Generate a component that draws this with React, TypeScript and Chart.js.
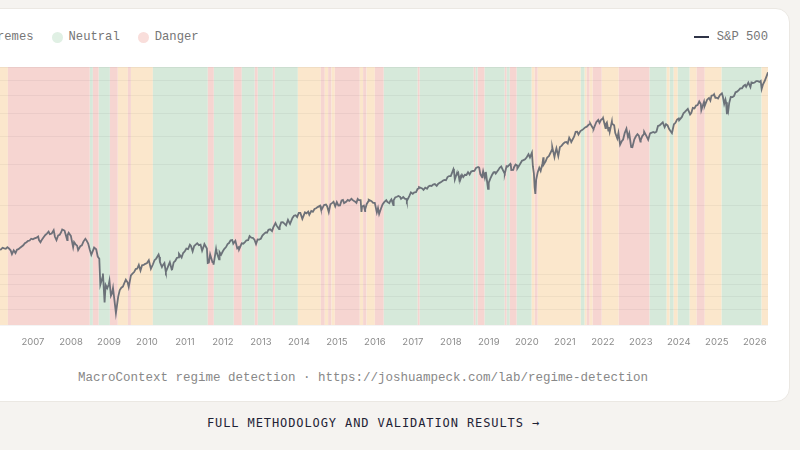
import React, { useEffect, useRef } from "react";
import { Chart, registerables } from "chart.js";

Chart.register(...registerables);

// S&P 500 closes, roughly twice a month
const SPX_SERIES: [string, number][] = [
  ["2006-01-03", 1269], ["2006-01-15", 1287], ["2006-01-31", 1280], ["2006-02-15", 1280], ["2006-02-28", 1281],
  ["2006-03-15", 1303], ["2006-03-31", 1295], ["2006-04-15", 1290], ["2006-04-30", 1311], ["2006-05-15", 1294],
  ["2006-05-31", 1270], ["2006-06-13", 1223], ["2006-06-30", 1270], ["2006-07-17", 1236], ["2006-07-31", 1277],
  ["2006-08-15", 1285], ["2006-08-31", 1304], ["2006-09-15", 1320], ["2006-09-30", 1336], ["2006-10-15", 1363],
  ["2006-10-31", 1378], ["2006-11-15", 1396], ["2006-11-30", 1401], ["2006-12-15", 1427], ["2006-12-31", 1418],
  ["2007-01-15", 1431], ["2007-01-31", 1438], ["2007-02-20", 1459], ["2007-02-28", 1407], ["2007-03-14", 1377],
  ["2007-03-31", 1421], ["2007-04-15", 1452], ["2007-04-30", 1482], ["2007-05-15", 1501], ["2007-05-31", 1531],
  ["2007-06-12", 1493], ["2007-06-30", 1503], ["2007-07-19", 1553], ["2007-07-31", 1455], ["2007-08-15", 1406],
  ["2007-08-31", 1474], ["2007-09-15", 1484], ["2007-09-30", 1527], ["2007-10-09", 1565], ["2007-10-31", 1549],
  ["2007-11-26", 1407], ["2007-11-30", 1481], ["2007-12-10", 1515], ["2007-12-31", 1468],
  ["2008-01-22", 1310], ["2008-01-31", 1379], ["2008-02-15", 1349], ["2008-02-29", 1331], ["2008-03-10", 1273],
  ["2008-03-31", 1323], ["2008-04-15", 1334], ["2008-04-30", 1386], ["2008-05-19", 1426], ["2008-05-31", 1400],
  ["2008-06-15", 1360], ["2008-06-30", 1280], ["2008-07-15", 1214], ["2008-07-31", 1267], ["2008-08-11", 1305],
  ["2008-08-31", 1283], ["2008-09-15", 1193], ["2008-09-30", 1166], ["2008-10-10", 899], ["2008-10-31", 969],
  ["2008-11-04", 1005], ["2008-11-20", 752], ["2008-11-30", 896], ["2008-12-15", 868], ["2008-12-31", 903],
  ["2009-01-06", 935], ["2009-01-20", 805], ["2009-01-31", 826], ["2009-02-09", 870], ["2009-02-28", 735],
  ["2009-03-09", 676], ["2009-03-31", 798], ["2009-04-15", 852], ["2009-04-30", 873], ["2009-05-15", 882],
  ["2009-05-31", 919], ["2009-06-12", 946], ["2009-06-30", 919], ["2009-07-10", 879], ["2009-07-31", 987],
  ["2009-08-15", 1005], ["2009-08-31", 1021], ["2009-09-15", 1052], ["2009-09-30", 1057], ["2009-10-15", 1096],
  ["2009-10-31", 1036], ["2009-11-15", 1093], ["2009-11-30", 1096], ["2009-12-15", 1108], ["2009-12-31", 1115],
  ["2010-01-19", 1150], ["2010-02-08", 1056], ["2010-02-28", 1104], ["2010-03-15", 1150], ["2010-03-31", 1169],
  ["2010-04-23", 1217], ["2010-04-30", 1187], ["2010-05-06", 1128], ["2010-05-25", 1074], ["2010-05-31", 1089],
  ["2010-06-18", 1117], ["2010-06-30", 1031], ["2010-07-02", 1022], ["2010-07-31", 1102], ["2010-08-09", 1127],
  ["2010-08-27", 1047], ["2010-08-31", 1049], ["2010-09-15", 1125], ["2010-09-30", 1141], ["2010-10-15", 1176],
  ["2010-10-31", 1183], ["2010-11-05", 1225], ["2010-11-30", 1181], ["2010-12-15", 1236], ["2010-12-31", 1258],
  ["2011-01-15", 1293], ["2011-01-31", 1286], ["2011-02-18", 1343], ["2011-02-28", 1327], ["2011-03-16", 1256],
  ["2011-03-31", 1326], ["2011-04-29", 1364], ["2011-05-15", 1338], ["2011-05-31", 1345], ["2011-06-15", 1265],
  ["2011-06-30", 1321], ["2011-07-07", 1353], ["2011-07-31", 1292], ["2011-08-08", 1119], ["2011-08-19", 1124],
  ["2011-08-31", 1219], ["2011-09-22", 1129], ["2011-09-30", 1131], ["2011-10-03", 1099], ["2011-10-27", 1285],
  ["2011-10-31", 1253], ["2011-11-25", 1159], ["2011-11-30", 1247], ["2011-12-15", 1216], ["2011-12-31", 1258],
  ["2012-01-15", 1290], ["2012-01-31", 1312], ["2012-02-15", 1351], ["2012-02-29", 1366], ["2012-03-15", 1403],
  ["2012-03-31", 1408], ["2012-04-10", 1358], ["2012-04-30", 1398], ["2012-05-18", 1295], ["2012-05-31", 1310],
  ["2012-06-04", 1278], ["2012-06-30", 1362], ["2012-07-15", 1357], ["2012-07-31", 1379], ["2012-08-15", 1405],
  ["2012-08-31", 1407], ["2012-09-14", 1465], ["2012-09-30", 1441], ["2012-10-15", 1440], ["2012-10-31", 1412],
  ["2012-11-15", 1353], ["2012-11-30", 1416], ["2012-12-15", 1414], ["2012-12-31", 1426],
  ["2013-01-15", 1472], ["2013-01-31", 1498], ["2013-02-15", 1519], ["2013-02-28", 1515], ["2013-03-15", 1560],
  ["2013-03-31", 1569], ["2013-04-18", 1541], ["2013-04-30", 1598], ["2013-05-21", 1669], ["2013-05-31", 1631],
  ["2013-06-24", 1573], ["2013-06-30", 1606], ["2013-07-15", 1682], ["2013-07-31", 1686], ["2013-08-15", 1661],
  ["2013-08-31", 1633], ["2013-09-18", 1725], ["2013-09-30", 1682], ["2013-10-08", 1655], ["2013-10-31", 1757],
  ["2013-11-15", 1798], ["2013-11-30", 1806], ["2013-12-15", 1775], ["2013-12-31", 1848],
  ["2014-01-15", 1848], ["2014-02-03", 1742], ["2014-02-28", 1859], ["2014-03-15", 1841], ["2014-03-31", 1872],
  ["2014-04-11", 1815], ["2014-04-30", 1884], ["2014-05-15", 1870], ["2014-05-31", 1924], ["2014-06-15", 1936],
  ["2014-06-30", 1960], ["2014-07-24", 1988], ["2014-07-31", 1931], ["2014-08-07", 1910], ["2014-08-31", 2003],
  ["2014-09-18", 2011], ["2014-09-30", 1972], ["2014-10-15", 1862], ["2014-10-31", 2018], ["2014-11-15", 2039],
  ["2014-11-30", 2068], ["2014-12-16", 1973], ["2014-12-31", 2059],
  ["2015-01-15", 1992], ["2015-01-31", 1995], ["2015-02-15", 2096], ["2015-02-28", 2105], ["2015-03-11", 2040],
  ["2015-03-31", 2068], ["2015-04-15", 2106], ["2015-04-30", 2086], ["2015-05-21", 2131], ["2015-05-31", 2107],
  ["2015-06-15", 2084], ["2015-06-30", 2063], ["2015-07-08", 2046], ["2015-07-20", 2128], ["2015-07-31", 2104],
  ["2015-08-17", 2102], ["2015-08-25", 1868], ["2015-08-31", 1972], ["2015-09-17", 1990], ["2015-09-29", 1884],
  ["2015-09-30", 1920], ["2015-10-15", 2023], ["2015-10-31", 2079], ["2015-11-03", 2109], ["2015-11-30", 2080],
  ["2015-12-15", 2043], ["2015-12-31", 2044],
  ["2016-01-20", 1859], ["2016-01-31", 1940], ["2016-02-11", 1829], ["2016-02-29", 1932], ["2016-03-15", 2015],
  ["2016-03-31", 2060], ["2016-04-20", 2102], ["2016-04-30", 2065], ["2016-05-19", 2040], ["2016-05-31", 2097],
  ["2016-06-08", 2119], ["2016-06-27", 2001], ["2016-06-30", 2099], ["2016-07-15", 2161], ["2016-07-31", 2174],
  ["2016-08-15", 2190], ["2016-08-31", 2171], ["2016-09-09", 2128], ["2016-09-30", 2168], ["2016-10-15", 2133],
  ["2016-10-31", 2126], ["2016-11-04", 2085], ["2016-11-30", 2199], ["2016-12-13", 2271], ["2016-12-31", 2239],
  ["2017-01-15", 2275], ["2017-01-31", 2279], ["2017-02-15", 2349], ["2017-02-28", 2364], ["2017-03-01", 2396],
  ["2017-03-31", 2363], ["2017-04-13", 2329], ["2017-04-30", 2384], ["2017-05-17", 2357], ["2017-05-31", 2412],
  ["2017-06-15", 2432], ["2017-06-30", 2423], ["2017-07-15", 2459], ["2017-07-31", 2470], ["2017-08-18", 2425],
  ["2017-08-31", 2472], ["2017-09-15", 2500], ["2017-09-30", 2519], ["2017-10-15", 2553], ["2017-10-31", 2575],
  ["2017-11-15", 2565], ["2017-11-30", 2648], ["2017-12-15", 2676], ["2017-12-31", 2674],
  ["2018-01-15", 2786], ["2018-01-26", 2873], ["2018-01-31", 2824], ["2018-02-08", 2581], ["2018-02-27", 2744],
  ["2018-02-28", 2714], ["2018-03-13", 2765], ["2018-03-23", 2588], ["2018-03-31", 2641], ["2018-04-02", 2582],
  ["2018-04-18", 2708], ["2018-04-30", 2648], ["2018-05-15", 2711], ["2018-05-31", 2705], ["2018-06-15", 2780],
  ["2018-06-30", 2718], ["2018-07-15", 2800], ["2018-07-31", 2816], ["2018-08-15", 2818], ["2018-08-31", 2902],
  ["2018-09-20", 2931], ["2018-09-30", 2914], ["2018-10-11", 2728], ["2018-10-29", 2641], ["2018-10-31", 2712],
  ["2018-11-07", 2814], ["2018-11-23", 2633], ["2018-11-30", 2760], ["2018-12-03", 2790], ["2018-12-24", 2351],
  ["2018-12-31", 2507],
  ["2019-01-15", 2610], ["2019-01-31", 2704], ["2019-02-15", 2776], ["2019-02-28", 2784], ["2019-03-08", 2743],
  ["2019-03-31", 2834], ["2019-04-15", 2907], ["2019-04-30", 2946], ["2019-05-15", 2850], ["2019-05-31", 2752],
  ["2019-06-03", 2744], ["2019-06-20", 2954], ["2019-06-30", 2942], ["2019-07-26", 3026], ["2019-07-31", 2980],
  ["2019-08-05", 2845], ["2019-08-23", 2847], ["2019-08-31", 2926], ["2019-09-15", 3007], ["2019-09-30", 2977],
  ["2019-10-02", 2887], ["2019-10-31", 3038], ["2019-11-15", 3120], ["2019-11-30", 3141], ["2019-12-15", 3169],
  ["2019-12-31", 3231],
  ["2020-01-17", 3330], ["2020-01-31", 3226], ["2020-02-19", 3386], ["2020-02-28", 2954], ["2020-03-09", 2747],
  ["2020-03-16", 2386], ["2020-03-23", 2237], ["2020-03-31", 2585], ["2020-04-15", 2784], ["2020-04-30", 2912],
  ["2020-05-13", 2820], ["2020-05-31", 3044], ["2020-06-08", 3232], ["2020-06-11", 3002], ["2020-06-30", 3100],
  ["2020-07-15", 3227], ["2020-07-31", 3271], ["2020-08-15", 3373], ["2020-08-31", 3500], ["2020-09-02", 3580],
  ["2020-09-23", 3237], ["2020-09-30", 3363], ["2020-10-12", 3534], ["2020-10-30", 3270], ["2020-11-15", 3585],
  ["2020-11-30", 3622], ["2020-12-15", 3695], ["2020-12-31", 3756],
  ["2021-01-15", 3768], ["2021-01-29", 3714], ["2021-02-12", 3934], ["2021-02-28", 3811], ["2021-03-04", 3768],
  ["2021-03-31", 3973], ["2021-04-15", 4170], ["2021-04-30", 4181], ["2021-05-12", 4063], ["2021-05-31", 4204],
  ["2021-06-15", 4246], ["2021-06-30", 4298], ["2021-07-15", 4360], ["2021-07-31", 4395], ["2021-08-15", 4468],
  ["2021-08-31", 4523], ["2021-09-02", 4537], ["2021-09-30", 4308], ["2021-10-04", 4300], ["2021-10-31", 4605],
  ["2021-11-18", 4704], ["2021-11-30", 4567], ["2021-12-15", 4709], ["2021-12-31", 4766],
  ["2022-01-03", 4797], ["2022-01-27", 4327], ["2022-01-31", 4516], ["2022-02-09", 4587], ["2022-02-23", 4226],
  ["2022-02-28", 4374], ["2022-03-08", 4171], ["2022-03-29", 4632], ["2022-03-31", 4530], ["2022-04-20", 4460],
  ["2022-04-30", 4132], ["2022-05-20", 3901], ["2022-05-31", 4132], ["2022-06-16", 3667], ["2022-06-30", 3785],
  ["2022-07-15", 3863], ["2022-07-31", 4130], ["2022-08-16", 4305], ["2022-08-31", 3955], ["2022-09-12", 4110],
  ["2022-09-30", 3586], ["2022-10-12", 3577], ["2022-10-31", 3872], ["2022-11-15", 3992], ["2022-11-30", 4080],
  ["2022-12-13", 4019], ["2022-12-28", 3783], ["2022-12-31", 3840],
  ["2023-01-15", 3999], ["2023-01-31", 4077], ["2023-02-02", 4179], ["2023-02-28", 3970], ["2023-03-13", 3855],
  ["2023-03-31", 4109], ["2023-04-15", 4137], ["2023-04-30", 4169], ["2023-05-15", 4136], ["2023-05-31", 4180],
  ["2023-06-15", 4426], ["2023-06-30", 4450], ["2023-07-31", 4589], ["2023-08-18", 4370], ["2023-08-31", 4508],
  ["2023-09-15", 4450], ["2023-09-30", 4288], ["2023-10-27", 4117], ["2023-10-31", 4194], ["2023-11-15", 4502],
  ["2023-11-30", 4568], ["2023-12-15", 4719], ["2023-12-31", 4770],
  ["2024-01-04", 4688], ["2024-01-31", 4846], ["2024-02-15", 5030], ["2024-02-29", 5096], ["2024-03-28", 5254],
  ["2024-04-19", 4967], ["2024-04-30", 5036], ["2024-05-15", 5308], ["2024-05-31", 5278], ["2024-06-15", 5431],
  ["2024-06-30", 5460], ["2024-07-16", 5667], ["2024-07-31", 5522], ["2024-08-05", 5186], ["2024-08-31", 5648],
  ["2024-09-06", 5408], ["2024-09-30", 5762], ["2024-10-18", 5865], ["2024-10-31", 5705], ["2024-11-11", 6001],
  ["2024-11-30", 6032], ["2024-12-06", 6090], ["2024-12-18", 5872], ["2024-12-31", 5882],
  ["2025-01-13", 5836], ["2025-01-31", 6041], ["2025-02-19", 6144], ["2025-02-28", 5955], ["2025-03-13", 5522],
  ["2025-03-25", 5776], ["2025-03-31", 5612], ["2025-04-08", 4982], ["2025-04-09", 5457], ["2025-04-21", 5158],
  ["2025-04-30", 5569], ["2025-05-15", 5917], ["2025-05-31", 5912], ["2025-06-15", 5977], ["2025-06-30", 6205],
  ["2025-07-15", 6244], ["2025-07-31", 6339], ["2025-08-15", 6449], ["2025-08-31", 6460], ["2025-09-15", 6615],
  ["2025-09-30", 6688], ["2025-10-10", 6552], ["2025-10-31", 6840], ["2025-11-20", 6538], ["2025-11-30", 6849],
  ["2025-12-15", 6816], ["2025-12-31", 6845],
  ["2026-01-15", 6940], ["2026-01-31", 6939], ["2026-02-15", 6880], ["2026-02-27", 6950], ["2026-03-08", 6420],
  ["2026-03-20", 6700], ["2026-04-06", 6950], ["2026-04-22", 7250], ["2026-05-08", 7580],
];

// Regime segments: each starts on its date and runs to the next one
const REGIME_STARTS = [
  "2005-12-13", "2006-05-05", "2008-07-01", "2008-07-30", "2008-09-25", "2009-01-10", "2009-03-27",
  "2009-07-02", "2009-07-31", "2010-02-27", "2011-08-09", "2011-10-06", "2012-04-15", "2012-07-01",
  "2012-11-03", "2012-12-02", "2013-04-26", "2013-05-15", "2013-12-22", "2014-07-31", "2014-09-07",
  "2014-10-09", "2014-11-11", "2014-12-12", "2015-08-09", "2015-09-10", "2015-10-13", "2016-01-01",
  "2016-03-27", "2017-02-17", "2017-03-08", "2018-08-09", "2018-08-28", "2018-09-16", "2018-11-22",
  "2019-06-03", "2019-06-22", "2019-07-21", "2019-09-26", "2020-02-17", "2020-03-17", "2020-04-15",
  "2021-06-03", "2021-07-11", "2021-07-30", "2021-08-28", "2021-09-26", "2021-12-22", "2022-06-03",
  "2023-03-27", "2023-09-07", "2023-10-06", "2023-11-13", "2023-12-22", "2024-04-15", "2024-06-22",
  "2024-09-07", "2025-02-17", "2026-03-08",
];
const REGIME_KINDS = [
  "extremes", "danger", "neutral", "danger", "neutral", "danger", "extremes",
  "danger", "extremes", "neutral", "danger", "neutral", "danger", "neutral",
  "danger", "neutral", "danger", "neutral", "extremes", "danger", "extremes",
  "danger", "extremes", "danger", "extremes", "danger", "extremes", "danger",
  "neutral", "danger", "neutral", "danger", "neutral", "danger", "neutral",
  "danger", "neutral", "danger", "neutral", "extremes", "danger", "extremes",
  "neutral", "extremes", "danger", "extremes", "danger", "extremes", "danger",
  "neutral", "extremes", "neutral", "extremes", "neutral", "extremes", "danger",
  "extremes", "neutral", "extremes",
];
const AXIS_START = "2005-12-13";
const SERIES_END = "2026-05-08";

const YEAR_TICKS = [
  2007, 2008, 2009, 2010, 2011, 2012, 2013, 2014, 2015, 2016,
  2017, 2018, 2019, 2020, 2021, 2022, 2023, 2024, 2025, 2026,
];

const LEGEND_ITEMS = [
  { key: "extremes", label: "Extremes" },
  { key: "neutral", label: "Neutral" },
  { key: "danger", label: "Danger" },
];

const BAND_FILL: Record<string, string> = {
  extremes: "#fbe7cc",
  neutral: "#d6e9da",
  danger: "#f6d5d1",
};
const DOT_FILL: Record<string, string> = {
  extremes: "#fcefdc",
  neutral: "#e0f0e4",
  danger: "#f9dedb",
};

const MONO = "'Liberation Mono', 'DejaVu Sans Mono', monospace";
const MONO_LINK = "'DejaVu Sans Mono', 'Liberation Mono', monospace";

function toYear(d: string): number {
  const [y, m, day] = d.split("-").map(Number);
  const t = Date.UTC(y, m - 1, day);
  const a = Date.UTC(y, 0, 1);
  const b = Date.UTC(y + 1, 0, 1);
  return y + (t - a) / (b - a);
}

const regimeBands = {
  id: "regimeBands",
  beforeDraw(chart: any) {
    const { ctx, chartArea, scales } = chart;
    const x = scales.x;
    ctx.save();
    for (let i = 0; i < REGIME_STARTS.length; i++) {
      const s = toYear(REGIME_STARTS[i]);
      const e = toYear(i + 1 < REGIME_STARTS.length ? REGIME_STARTS[i + 1] : SERIES_END);
      const x0 = Math.max(chartArea.left, x.getPixelForValue(s));
      const x1 = Math.min(chartArea.right, x.getPixelForValue(e));
      if (x1 <= x0) continue;
      ctx.fillStyle = BAND_FILL[REGIME_KINDS[i]];
      ctx.fillRect(x0, chartArea.top, x1 - x0, chartArea.bottom - chartArea.top);
    }
    ctx.restore();
  },
};

function RegimeChart() {
  const ref = useRef<HTMLCanvasElement | null>(null);
  useEffect(() => {
    if (!ref.current) return;
    const chart = new Chart(ref.current, {
      type: "line",
      data: {
        datasets: [
          {
            label: "S&P 500",
            data: SPX_SERIES.map(([d, v]) => ({ x: toYear(d), y: v })),
            borderColor: "rgba(98,103,113,0.92)",
            borderWidth: 1.8,
            pointRadius: 0,
            tension: 0,
            fill: false,
          },
        ],
      },
      options: {
        animation: false,
        responsive: false,
        devicePixelRatio: 1,
        layout: { padding: { top: 7, right: 0, bottom: 5, left: 0 } },
        plugins: { legend: { display: false }, tooltip: { enabled: false } },
        scales: {
          x: {
            type: "linear",
            min: toYear(AXIS_START),
            max: toYear(SERIES_END),
            grid: { display: false },
            border: { display: false },
            afterBuildTicks: (s: any) => {
              s.ticks = YEAR_TICKS.map((v) => ({ value: v }));
            },
            afterFit: (s: any) => {
              s.height = 30;
              s.paddingLeft = 0;
              s.paddingRight = 0;
            },
            ticks: {
              color: "#8b8b8b",
              font: { family: "Inter, 'Noto Sans', sans-serif", size: 9.5 },
              padding: 3,
              maxRotation: 0,
              autoSkip: false,
              callback: (v: any) => String(v),
            },
          },
          y: {
            type: "logarithmic",
            min: 600,
            max: 8000,
            ticks: { display: false },
            grid: { color: "rgba(0,0,0,0.045)", drawTicks: false },
            border: { display: false },
            afterFit: (s: any) => {
              s.width = 0;
            },
          },
        },
      },
      plugins: [regimeBands],
    });
    return () => chart.destroy();
  }, []);
  return <canvas ref={ref} width={775} height={300} style={{ position: "absolute", left: 56, top: 51 }} />;
}

export default function App() {
  return (
    <div
      style={{
        position: "fixed",
        left: 0,
        top: 0,
        width: 800,
        height: 450,
        overflow: "hidden",
        background: "#f5f3f0",
      }}
    >
      <div
        style={{
          position: "absolute",
          left: -64,
          top: 8,
          width: 854,
          height: 394,
          boxSizing: "border-box",
          background: "#ffffff",
          border: "1px solid #ebe8e3",
          borderRadius: 14,
        }}
      >
        <div
          style={{
            position: "absolute",
            left: 21,
            top: 20,
            display: "flex",
            alignItems: "center",
            gap: 18,
            fontFamily: MONO,
            fontSize: 12.2,
            color: "#767676",
            lineHeight: "16px",
          }}
        >
          {LEGEND_ITEMS.map((it) => (
            <div key={it.key} style={{ display: "flex", alignItems: "center" }}>
              <span
                style={{
                  width: 11,
                  height: 11,
                  borderRadius: "50%",
                  background: DOT_FILL[it.key],
                  marginRight: 6,
                  display: "inline-block",
                }}
              />
              <span>{it.label}</span>
            </div>
          ))}
        </div>
        <div
          style={{
            position: "absolute",
            right: 21,
            top: 20,
            display: "flex",
            alignItems: "center",
            fontFamily: MONO,
            fontSize: 12.2,
            color: "#767676",
            lineHeight: "16px",
          }}
        >
          <span style={{ width: 15, height: 2, background: "#2f3447", marginRight: 8, display: "inline-block" }} />
          <span>S&amp;P 500</span>
        </div>
        <RegimeChart />
        <div
          style={{
            position: "absolute",
            left: 0,
            right: 0,
            top: 361,
            textAlign: "center",
            fontFamily: MONO,
            fontSize: 12.5,
            color: "#888888",
            lineHeight: "16px",
          }}
        >
          MacroContext regime detection · https://joshuampeck.com/lab/regime-detection
        </div>
      </div>
      <div
        style={{
          position: "absolute",
          left: 0,
          width: 747,
          top: 415,
          textAlign: "center",
          fontFamily: MONO_LINK,
          fontSize: 12,
          letterSpacing: 0.9,
          color: "#1f2336",
          lineHeight: "16px",
        }}
      >
        FULL METHODOLOGY AND VALIDATION RESULTS →
      </div>
    </div>
  );
}
